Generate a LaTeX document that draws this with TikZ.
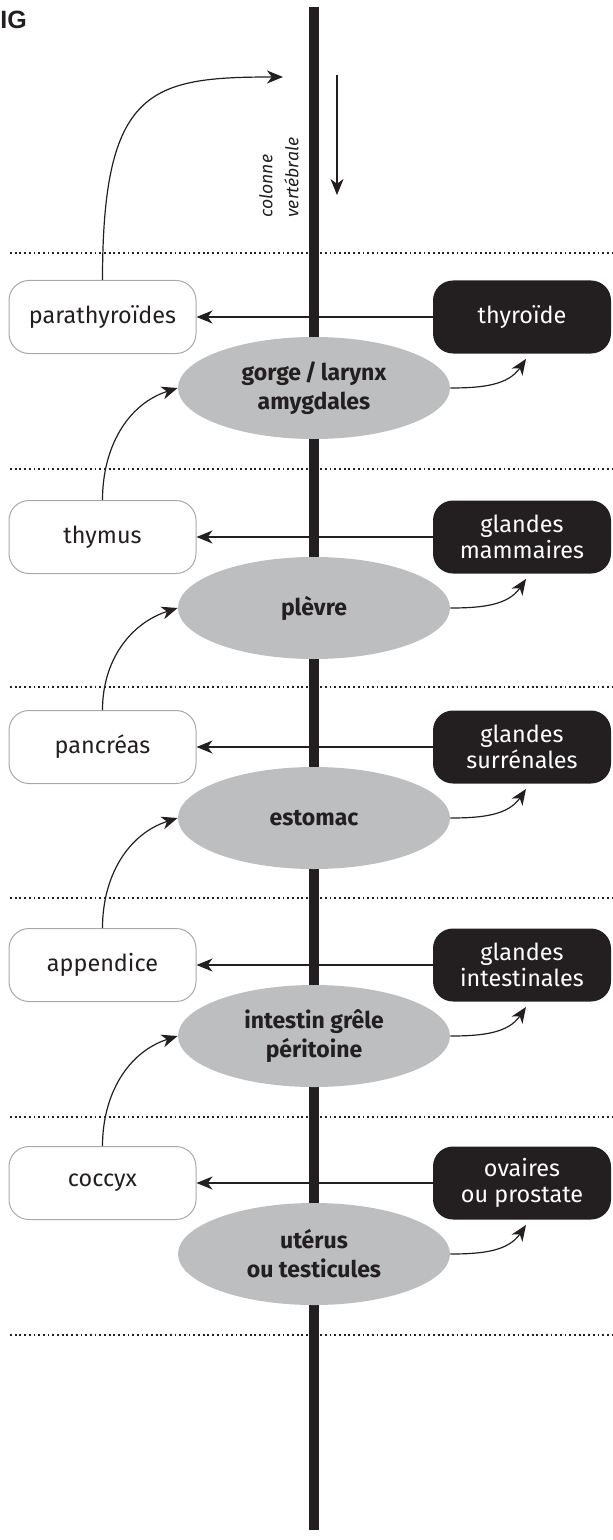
\documentclass[tikz,border=0pt]{standalone}
\usepackage{fontspec}
\setmainfont{Fira Sans}
\newfontfamily\headfont{Liberation Sans}
\usetikzlibrary{arrows.meta,shapes.geometric,calc}

\definecolor{ink}{HTML}{231F20}
\definecolor{organgray}{HTML}{BCBEC0}
\definecolor{rim}{HTML}{A7A9AC}

\begin{document}
\begin{tikzpicture}[x=0.5pt,y=0.5pt,
  tip/.style={-{Stealth[length=8pt,width=6.5pt,inset=2.4pt]}},
  link/.style={draw=ink, line width=0.6pt},
  level/.style={draw=ink, line width=0.9pt, dash pattern=on 0.9pt off 1.45pt},
  gland/.style={draw=rim, line width=0.5pt, fill=white, rounded corners=10pt,
    minimum width=93.5pt, minimum height=36.5pt, inner sep=0pt, text=ink,
    align=center, font=\fontsize{11.7}{13}\selectfont},
  hormone/.style={fill=ink, rounded corners=10pt,
    minimum width=89pt, minimum height=36.5pt, inner sep=0pt, text=white,
    align=center, font=\fontsize{11.7}{13}\selectfont},
  organ/.style={ellipse, fill=organgray, minimum width=136pt, minimum height=51pt,
    inner sep=0pt, text=ink, align=center,
    font=\bfseries\fontsize{11.5}{14.5}\selectfont},
]
\useasboundingbox (0,0) rectangle (612,-1540);

% heading fragment
\node[anchor=base west, inner sep=0pt, text=ink,
  font=\headfont\bfseries\fontsize{12.5}{15}\selectfont] (head) at (0,-29) {IG};

% level separators
\foreach \yy [count=\i] in {253,469,687,898,1117,1335}{
  \coordinate (lvL\i) at (10,-\yy);
  \coordinate (lvR\i) at (612,-\yy);
  \draw[level] (lvL\i) -- (lvR\i);
}

% glands and organs, level by level
\node[gland]   (g1) at (102.5,-317) {parathyroïdes};
\node[hormone] (h1) at (522,-317)   {thyroïde};
\node[gland]   (g2) at (102.5,-537) {thymus};
\node[hormone] (h2) at (522,-537)   {glandes\\mammaires};
\node[gland]   (g3) at (102.5,-747) {pancréas};
\node[hormone] (h3) at (522,-747)   {glandes\\surrénales};
\node[gland]   (g4) at (102.5,-965) {appendice};
\node[hormone] (h4) at (522,-965)   {glandes\\intestinales};
\node[gland]   (g5) at (102.5,-1183) {coccyx};
\node[hormone] (h5) at (522,-1183)   {ovaires\\ou prostate};

% horizontal links across the spine
\foreach \i in {1,...,5}{
  \draw[link,tip] (h\i.west) -- (g\i.east);
}

% spine
\coordinate (spineTop) at (314,-7);
\coordinate (spineBot) at (314,-1530);
\draw[draw=ink, line width=5pt] (spineTop) -- (spineBot);

% organs on the spine
\node[organ] (o1) at (314,-388)  {gorge\,/\,larynx\\amygdales};
\node[organ] (o2) at (314,-608)  {plèvre};
\node[organ] (o3) at (314,-818)  {estomac};
\node[organ] (o4) at (314,-1036) {intestin grêle\\péritoine};
\node[organ] (o5) at (314,-1254) {utérus\\ou testicules};

% spine label and flow direction
\node[rotate=90, anchor=south west, inner sep=0pt, align=left, text=ink,
  font=\itshape\fontsize{8.8}{13}\selectfont] (colonne) at (299,-218)
  {colonne\\vertébrale};
\coordinate (flowA) at (337,-75);
\coordinate (flowB) at (337,-195);
\draw[link,tip] (flowA) -- (flowB);

% organ -> gland on the right
\foreach \i in {1,...,5}{
  \coordinate (r\i) at ($(h\i.south)+(4,-5)$);
  \draw[link,tip] (o\i.east) to[out=0,in=236] (r\i);
}

% gland on the left -> organ above
\foreach \i [evaluate=\i as \j using int(\i+1)] in {1,...,4}{
  \draw[link,tip] (g\j.north) to[out=90,in=198] (o\i.west);
}
\coordinate (topEnd) at (283,-77);
\draw[link,tip] (g1.north) .. controls +(0,191) and +(-133,0) .. (topEnd);
\end{tikzpicture}
\end{document}
